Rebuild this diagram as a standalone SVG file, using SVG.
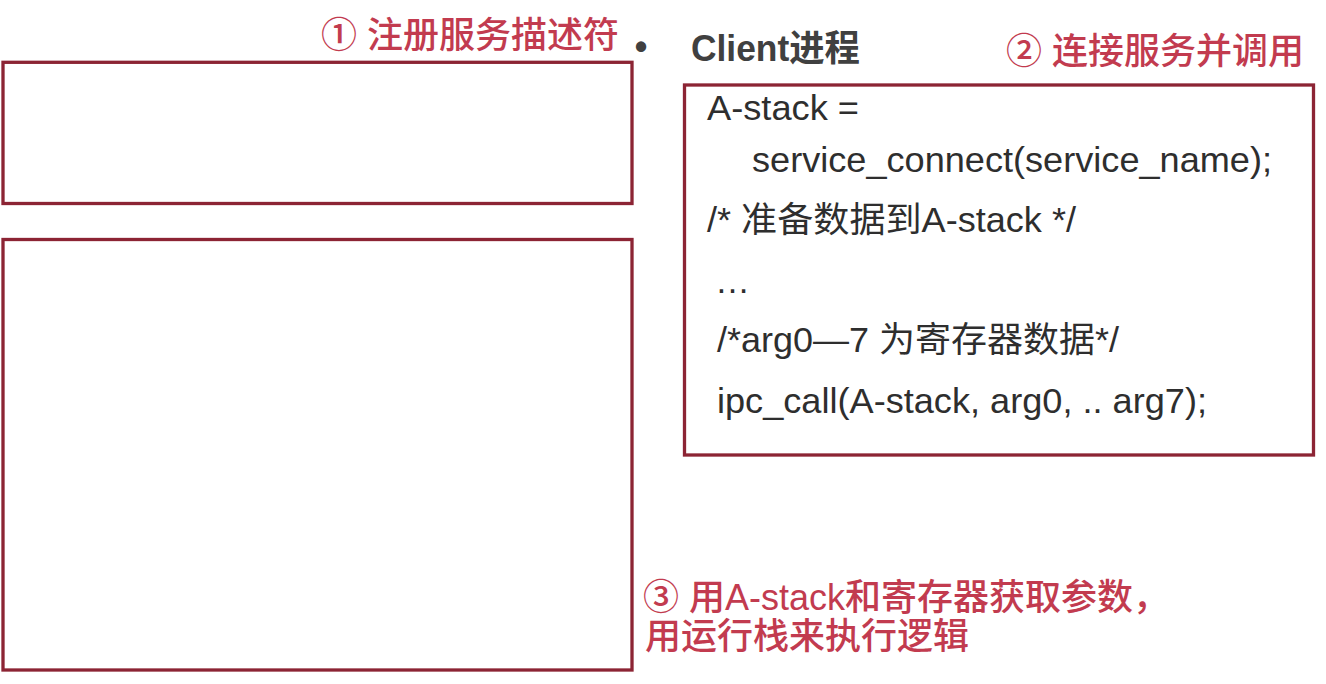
<svg xmlns="http://www.w3.org/2000/svg" width="1326" height="684" viewBox="0 0 1326 684">
<style>
.box{fill:none;stroke:#8C2434;stroke-width:3.3}
.red{font-family:"Liberation Sans","Noto Sans CJK SC",sans-serif;font-size:36px;font-weight:500;fill:#C23B4F}
.code{font-family:"Liberation Sans","Noto Sans CJK SC",sans-serif;font-size:35px;fill:#2E2E2E}
.title{font-family:"Liberation Sans","Noto Sans CJK SC",sans-serif;font-size:36px;font-weight:bold;fill:#404040}
</style>
<rect width="1326" height="684" fill="#ffffff"/>
<g id="server-descriptor">
<rect class="box" x="3" y="62.3" width="629" height="141.2"/>
<text class="red" x="321" y="48">① 注册服务描述符</text>
</g>
<g id="server-logic">
<rect class="box" x="3" y="239.5" width="629" height="430.5"/>
<text class="red" x="643" y="610">③ 用A-stack和寄存器获取参数，</text>
<text class="red" x="645" y="649">用运行栈来执行逻辑</text>
</g>
<g id="client">
<text class="title" x="641" y="59" text-anchor="middle" font-weight="normal">•</text>
<text class="title" x="691" y="61" textLength="169" lengthAdjust="spacingAndGlyphs">Client进程</text>
<text class="red" x="1006" y="64">② 连接服务并调用</text>
<rect class="box" x="684.5" y="85" width="629" height="370"/>
<text class="code" x="707" y="120" textLength="152" lengthAdjust="spacingAndGlyphs">A-stack =</text>
<text class="code" x="752" y="172" textLength="520" lengthAdjust="spacingAndGlyphs">service_connect(service_name);</text>
<text class="code" x="707" y="232" textLength="369" lengthAdjust="spacingAndGlyphs">/* 准备数据到A-stack */</text>
<text class="code" x="715" y="293">…</text>
<text class="code" x="717" y="352" textLength="402" lengthAdjust="spacingAndGlyphs">/*arg0—7 为寄存器数据*/</text>
<text class="code" x="717" y="413" textLength="490" lengthAdjust="spacingAndGlyphs">ipc_call(A-stack, arg0, .. arg7);</text>
</g>
<g id="connectors"></g>
</svg>
